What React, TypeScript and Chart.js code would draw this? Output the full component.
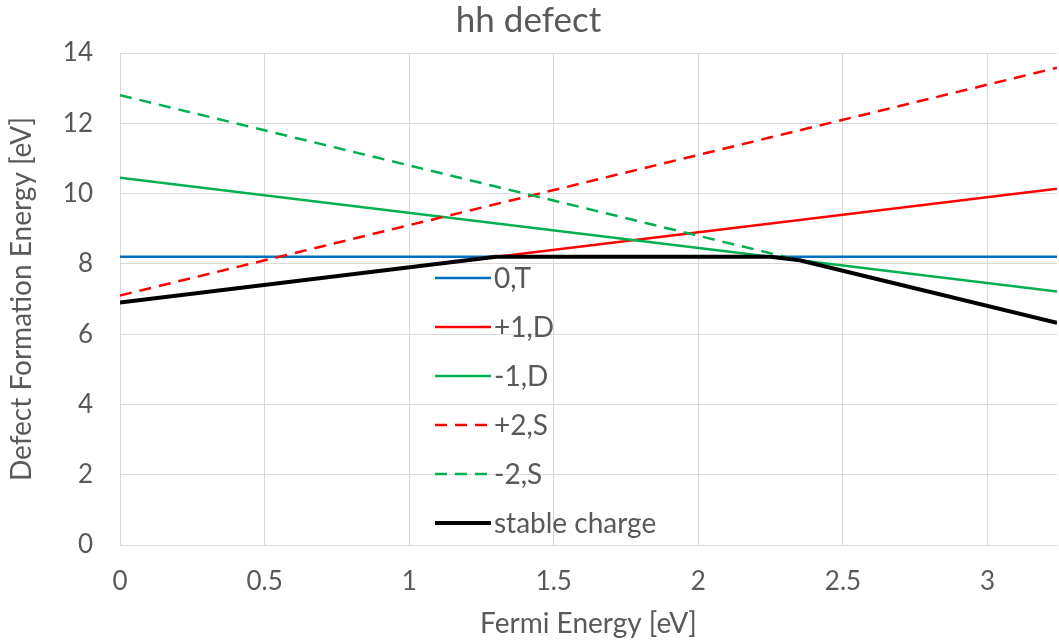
import React, { useEffect, useRef } from "react";
import { Chart, registerables } from "chart.js";

Chart.register(...registerables);

const chartTitle = "hh defect";
const xTitle = "Fermi Energy [eV]";
const yTitle = "Defect Formation Energy [eV]";

const seriesLabels = ["0,T", "+1,D", "-1,D", "+2,S", "-2,S", "stable charge"];
const seriesColors = ["#0070C0", "#FF0000", "#00B050", "#FF0000", "#00B050", "#000000"];

const fermiEnds = [0, 3.24];
const neutralT = [8.2, 8.2];
const plus1D = [6.9, 10.14];
const minus1D = [10.45, 7.21];
const plus2S = [7.1, 13.58];
const minus2S = [12.8, 6.32];
const stableX = [0, 1.3, 2.25, 2.35, 3.24];
const stableY = [6.9, 8.2, 8.2, 8.1, 6.32];

const xMin = 0;
const xMax = 3.24;
const xStep = 0.5;
const yMin = 0;
const yMax = 14;
const yStep = 2;

const FONT = "Lato, 'Noto Sans', sans-serif";
const TEXT = "#595959";
const GRID = "#D9D9D9";

function pts(xs: number[], ys: number[]) {
  return xs.map((x, i) => ({ x, y: ys[i] }));
}

const legendPlugin = {
  id: "insideLegend",
  afterDatasetsDraw(chart: any) {
    const { ctx, chartArea } = chart;
    const x0 = chartArea.left + 315;
    const y0 = chartArea.top + 225;
    const rowGap = 49;
    ctx.save();
    chart.data.datasets.forEach((ds: any, i: number) => {
      const y = y0 + i * rowGap;
      ctx.beginPath();
      ctx.strokeStyle = ds.borderColor;
      ctx.lineWidth = ds.borderWidth;
      ctx.setLineDash(ds.borderDash || []);
      ctx.lineCap = "butt";
      ctx.moveTo(x0, y);
      ctx.lineTo(x0 + 56, y);
      ctx.stroke();
      ctx.setLineDash([]);
      ctx.fillStyle = TEXT;
      ctx.font = `28px ${FONT}`;
      ctx.textBaseline = "middle";
      ctx.textAlign = "left";
      ctx.fillText(ds.label, x0 + 59, y + 1);
    });
    ctx.restore();
  },
};

export default function App() {
  const ref = useRef<HTMLCanvasElement | null>(null);

  useEffect(() => {
    document.body.style.margin = "0";
    if (!ref.current) return;
    const dataSets = [
      pts(fermiEnds, neutralT),
      pts(fermiEnds, plus1D),
      pts(fermiEnds, minus1D),
      pts(fermiEnds, plus2S),
      pts(fermiEnds, minus2S),
      pts(stableX, stableY),
    ];
    const dashes = [[], [], [], [12, 8], [12, 8], []];
    const widths = [2.5, 2.5, 2.5, 2.5, 2.5, 4];
    const chart = new Chart(ref.current, {
      type: "scatter",
      data: {
        datasets: dataSets.map((d, i) => ({
          label: seriesLabels[i],
          data: d,
          showLine: true,
          borderColor: seriesColors[i],
          backgroundColor: seriesColors[i],
          borderWidth: widths[i],
          borderDash: dashes[i],
          pointRadius: 0,
          tension: 0,
          fill: false,
          order: seriesLabels.length - i,
        })),
      },
      options: {
        animation: false,
        responsive: false,
        maintainAspectRatio: false,
        layout: { padding: { left: 0, right: 2, top: 0, bottom: 0 } },
        plugins: {
          legend: { display: false },
          tooltip: { enabled: false },
          title: {
            display: true,
            text: chartTitle,
            color: TEXT,
            font: { family: FONT, size: 35, weight: "normal" },
            padding: { top: 0, bottom: 11 },
          },
        },
        scales: {
          x: {
            type: "linear",
            min: xMin,
            max: xMax,
            ticks: {
              stepSize: xStep,
              includeBounds: false,
              color: TEXT,
              font: { family: FONT, size: 26 },
              padding: 21,
              maxRotation: 0,
              callback: (v: any) => String(Math.round(Number(v) * 100) / 100),
            },
            grid: { color: GRID, lineWidth: 1, drawTicks: false },
            border: { color: GRID, width: 1 },
            title: {
              display: true,
              text: xTitle,
              color: TEXT,
              font: { family: FONT, size: 28 },
              padding: { top: 0, bottom: 3 },
            },
            afterFit(scale: any) {
              scale.height = 99;
            },
          },
          y: {
            type: "linear",
            min: yMin,
            max: yMax,
            ticks: {
              stepSize: yStep,
              color: TEXT,
              font: { family: FONT, size: 26 },
              padding: 27,
            },
            grid: { color: GRID, lineWidth: 1, drawTicks: false },
            border: { color: GRID, width: 1 },
            title: {
              display: true,
              text: yTitle,
              color: TEXT,
              font: { family: FONT, size: 28 },
              padding: { top: 5, bottom: 0 },
            },
            afterFit(scale: any) {
              scale.width = 120;
            },
          },
        },
      },
      plugins: [legendPlugin],
    } as any);
    return () => chart.destroy();
  }, []);

  return (
    <div style={{ width: 1059, height: 644, background: "#fff" }}>
      <canvas ref={ref} width={1059} height={644} style={{ display: "block" }} />
    </div>
  );
}
